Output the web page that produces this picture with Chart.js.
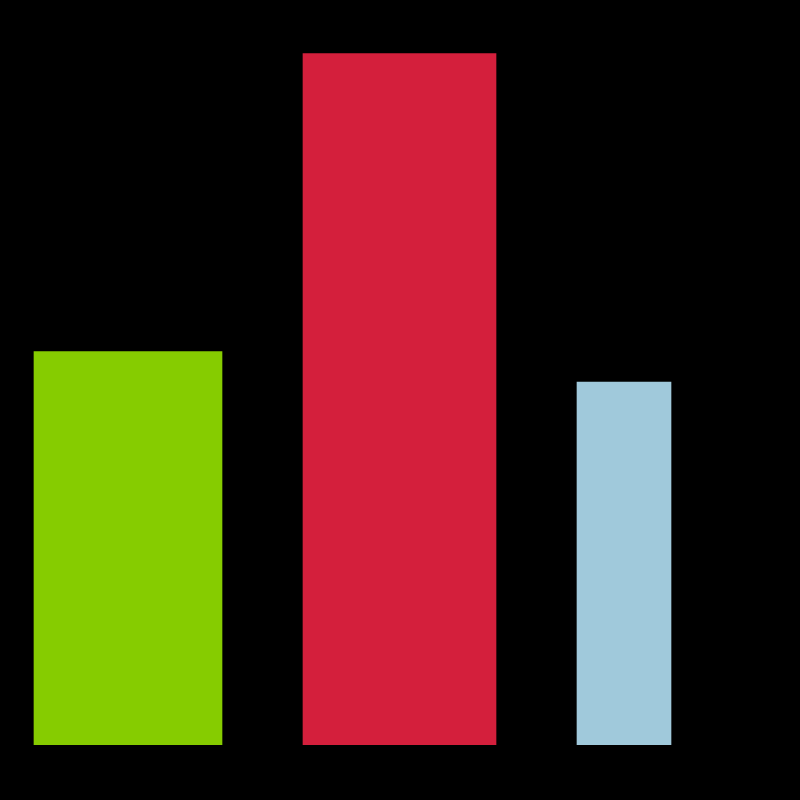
<!DOCTYPE html>
<html>
<head>
<meta charset="utf-8">
<title>Bars</title>
<script src="https://cdn.jsdelivr.net/npm/chart.js@4.4.0/dist/chart.umd.min.js"></script>
<style>
    html, body { margin: 0; padding: 0; background: #000; }
    #wrap { width: 800px; height: 800px; position: relative; }
</style>
</head>
<body>
<div id="wrap"><canvas id="chart"></canvas></div>
<script>
// bar data
const categories = ['A', 'B', 'C'];
const positions = [1.28, 3.995, 6.24];
const values = [52.8, 92.8, 48.7];
const colors = ['#86cc00', '#d41f3c', '#a0c9db'];
const thickness = [188, 193, 94];

// one dataset per bar so each can keep its own width
const datasets = categories.map((name, i) => ({
    label: name,
    data: [{ x: positions[i], y: values[i] }],
    backgroundColor: colors[i],
    borderWidth: 0,
    barThickness: thickness[i],
    grouped: false
}));

new Chart(document.getElementById('chart').getContext('2d'), {
    type: 'bar',
    data: { datasets: datasets },
    options: {
        responsive: true,
        maintainAspectRatio: false,
        animation: false,
        layout: { padding: { top: 0, right: 0, bottom: 55, left: 0 } },
        plugins: {
            legend: { display: false },
            tooltip: { enabled: false }
        },
        scales: {
            x: { type: 'linear', min: 0, max: 8, offset: false, display: false },
            y: { min: 0, max: 100, display: false }
        }
    }
});
</script>
</body>
</html>
